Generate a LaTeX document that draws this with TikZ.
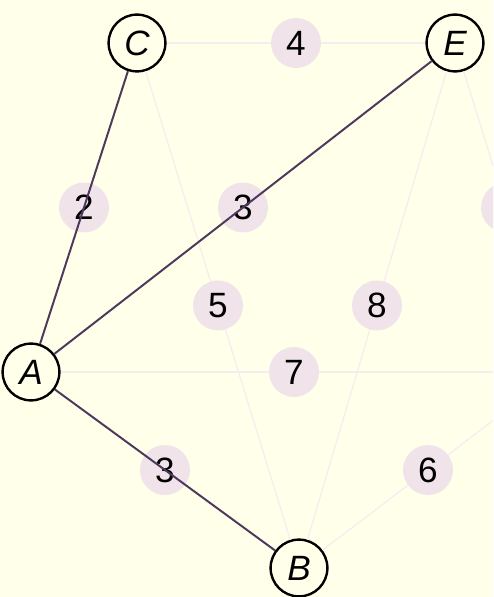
\documentclass[tikz,border=0pt]{standalone}
\usepackage{fontspec}
\setmainfont{Liberation Sans}
\usepackage{xcolor}
\usetikzlibrary{calc}

\definecolor{paper}{RGB}{255,255,234}
\definecolor{treeedge}{RGB}{78,56,92}
\definecolor{weightbg}{RGB}{240,228,234}
\definecolor{faintedge}{RGB}{244,236,240}

\begin{document}
\begin{tikzpicture}[
    vertex/.style={circle, draw, line width=1.7pt, minimum size=14.2mm, inner sep=0pt, font=\fontsize{25}{30}\selectfont\itshape},
    weight/.style={circle, fill=weightbg, minimum size=12.5mm, inner sep=0pt, font=\fontsize{25}{30}\selectfont},
    tree/.style={draw=treeedge, line width=1.4pt},
    unused/.style={draw=faintedge, line width=0.8pt}]
    \fill[paper] (0,0) rectangle (12.325,14.925);
    \clip (0,0) rectangle (12.325,14.925);
    % vertices (the fifth one lies off the page)
    \node[vertex] (C) at (3.425,13.85) {C};
    \node[vertex] (E) at (11.375,13.85) {E};
    \node[vertex] (A) at (0.775,5.625) {A};
    \node[vertex] (B) at (7.475,0.725) {B};
    \coordinate (D) at (13.925,5.625);
    % edges left out of the tree
    \draw[unused] (C) -- (E);
    \draw[unused] (C) -- (B);
    \draw[unused] (E) -- (B);
    \draw[unused] (E) -- (D);
    \draw[unused] (A) -- (D);
    \draw[unused] (B) -- (D);
    % weights
    \node[weight] (wCA) at ($(C)!0.5!(A)$) {2};
    \node[weight] (wAE) at ($(A)!0.5!(E)$) {3};
    \node[weight] (wCE) at ($(C)!0.5!(E)$) {4};
    \node[weight] (wCB) at ($(C)!0.5!(B)$) {5};
    \node[weight] (wEB) at ($(E)!0.5!(B)$) {8};
    \node[weight] (wAD) at ($(A)!0.5!(D)$) {7};
    \node[weight] (wAB) at ($(A)!0.5!(B)$) {3};
    \node[weight] (wBD) at ($(B)!0.5!(D)$) {6};
    \node[weight] (wED) at ($(E)!0.5!(D)$) {};
    % tree edges
    \draw[tree] (C) -- (A);
    \draw[tree] (A) -- (E);
    \draw[tree] (A) -- (B);
\end{tikzpicture}
\end{document}
